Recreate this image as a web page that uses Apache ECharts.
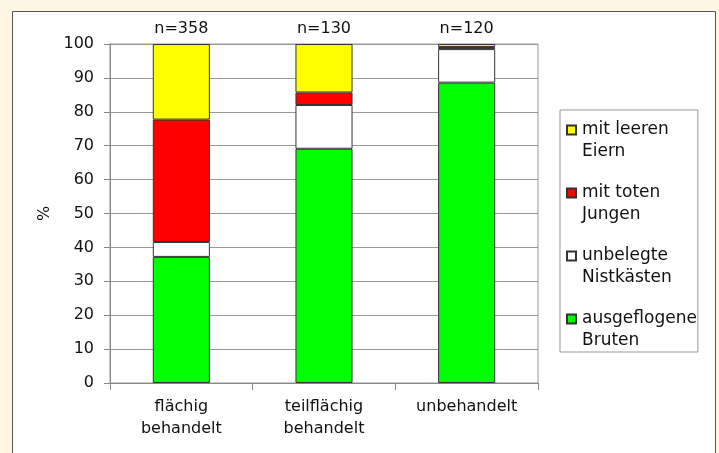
<!DOCTYPE html>
<html>
<head>
<meta charset="utf-8">
<script src="https://cdn.jsdelivr.net/npm/echarts@6/dist/echarts.min.js"></script>
<style>
html,body{margin:0;padding:0;background:#fdf7e3;}
#chart{width:719px;height:453px;}
</style>
</head>
<body>
<div id="chart"></div>
<script>
var categories = ['flächig\nbehandelt', 'teilflächig\nbehandelt', 'unbehandelt'];
var sampleSizes = ['n=358', 'n=130', 'n=120'];
var seriesNames = ['ausgeflogene\nBruten', 'unbelegte\nNistkästen', 'mit toten\nJungen', 'mit leeren\nEiern'];
var ausgeflogene = [37.2, 69.1, 88.6];
var unbelegte = [4.4, 12.9, 9.9];
var toteJunge = [36.1, 3.7, 0.6];
var leereEier = [22.3, 14.3, 0.9];
var yTicks = [0, 10, 20, 30, 40, 50, 60, 70, 80, 90, 100];

var FONT = 'DejaVu Sans';
var colors = ['#00ff00', '#ffffff', '#ff0000', '#ffff00'];
var values = [ausgeflogene, unbelegte, toteJunge, leereEier];

var chart = echarts.init(document.getElementById('chart'), null, {renderer: 'canvas'});

var series = seriesNames.map(function (name, i) {
  return {
    name: name,
    type: 'bar',
    stack: 'total',
    barWidth: '40%',
    data: values[i],
    itemStyle: {color: colors[i], borderColor: '#333', borderWidth: 1},
    emphasis: {disabled: true}
  };
});

chart.setOption({
  backgroundColor: '#fdf7e3',
  animation: false,
  textStyle: {fontFamily: FONT},
  graphic: [{
    type: 'rect',
    z: -10,
    shape: {x: 12.5, y: 11.5, width: 703, height: 460},
    style: {fill: '#ffffff', stroke: '#555', lineWidth: 1}
  }],
  grid: {
    left: 110, top: 44, width: 428, height: 339,
    show: true, borderColor: '#999', borderWidth: 1, backgroundColor: 'transparent'
  },
  legend: {
    orient: 'vertical',
    left: 560, top: 110,
    data: seriesNames.slice().reverse(),
    padding: [9, 1, 0, 6],
    itemGap: 19,
    itemWidth: 9,
    itemHeight: 31,
    icon: 'path://M0,0h9v9h-9z M0,31',
    borderColor: '#999', borderWidth: 1,
    selectedMode: false,
    textStyle: {fontFamily: FONT, fontSize: 17, color: '#111', lineHeight: 22, padding: [0, 0, 0, 1]}
  },
  xAxis: [{
    type: 'category',
    data: categories,
    axisLine: {lineStyle: {color: '#888'}},
    axisTick: {show: true, length: 7, lineStyle: {color: '#888'}},
    axisLabel: {fontFamily: FONT, fontSize: 16, color: '#111', lineHeight: 22, margin: 13, interval: 0}
  }, {
    type: 'category',
    position: 'top',
    data: sampleSizes,
    axisLine: {show: false},
    axisTick: {show: false},
    axisLabel: {fontFamily: FONT, fontSize: 16, color: '#111', margin: 7, interval: 0}
  }],
  yAxis: {
    type: 'value',
    min: yTicks[0], max: yTicks[yTicks.length - 1], interval: 10,
    name: '%',
    nameLocation: 'middle',
    nameRotate: 90,
    nameGap: 57,
    nameTextStyle: {fontFamily: FONT, fontSize: 16, color: '#111'},
    axisLine: {show: true, lineStyle: {color: '#888'}},
    axisTick: {show: true, length: 6, lineStyle: {color: '#888'}},
    splitLine: {lineStyle: {color: '#999'}},
    axisLabel: {fontFamily: FONT, fontSize: 16, color: '#111', margin: 16}
  },
  series: series
});
</script>
</body>
</html>
